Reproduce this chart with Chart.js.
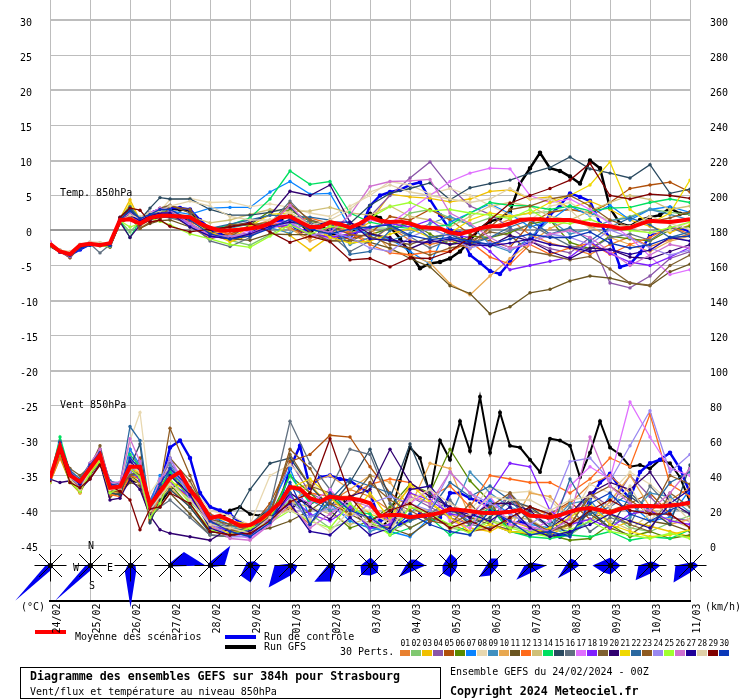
<!DOCTYPE html>
<html>
<head>
<meta charset="utf-8">
<title>GEFS Strasbourg</title>
<script src="https://cdn.jsdelivr.net/npm/chart.js@4"></script>
<style>
  body { margin: 0; background: #fff; }
</style>
</head>
<body>
<canvas id="chart" width="740" height="700"></canvas>
<script>
const dateLabels = ['24/02','25/02','26/02','27/02','28/02','29/02','01/03','02/03','03/03','04/03','05/03','06/03','07/03','08/03','09/03','10/03','11/03'];
const leftTicks = [30,25,20,15,10,5,0,-5,-10,-15,-20,-25,-30,-35,-40,-45];
const rightTicks = [300,280,260,240,220,200,180,160,140,120,100,80,60,40,20,0];

// forecast hours of the runs (6h) and of the members (6h then 12h)
const runHours = Array.from({length: 65}, (_, i) => i * 6);
const pertHours = [0,6,12,18,24,30,36,42,48,54,60,66,72,84,96,108,120,132,144,156,168,180,192,204,216,228,240,252,264,276,288,300,312,324,336,348,360,372,384];

const meanT = [-1.9,-3,-3.4,-2.1,-1.9,-2.1,-1.8,1.5,1.6,1,1.8,2.1,2.1,2,1.9,1,.4,0,0,.1,.3,.5,1,1.9,2,1.2,.5,.5,1.2,.9,.4,1,1.9,1.4,1.2,1.3,1,.5,.4,.3,-.3,-.5,-.1,.3,.6,.6,1,1.5,1.6,1.6,1.5,1.5,1.5,1.2,.9,.7,.6,.3,.4,.9,1.4,1.3,1.2,1.4,1.6];
const controlT = [-2,-2.9,-3.5,-2.7,-2,-1.9,-2.2,1.5,2.2,1.4,2.5,3,3.2,3.2,3,1.5,.2,-.6,-1,-.7,-.5,.3,1,1.4,1,-.2,.3,-.1,.5,-1,-.9,0,3.5,5,5.5,5.8,6.5,6.9,4.4,2.2,.1,-.4,-3.5,-4.6,-5.8,-6.2,-4.5,-2.1,-1.6,.5,2.2,3.6,5.3,4.8,4.2,1,-1.1,-5.2,-4.8,-3.2,-.6,-.1,.1,.4,-.2];
const gfsT = [-2.2,-3,-3.3,-2.5,-1.8,-1.9,-2.1,1.2,3,1.5,2.5,3,3.1,3,2.9,1,0,-.5,-1,-1,-.6,.3,.5,1.5,2.2,1,-.3,.8,-.3,-1,-.5,.5,2.4,1.8,.5,-1.1,-3.3,-5.4,-4.7,-4.5,-4,-3,-1.4,.3,1.3,1.7,2.7,6.7,8.9,11.1,8.9,8.5,7.7,6.7,10,8.9,3.2,1,.6,1.5,1.9,2.2,3.2,2.4,2.4];

const meanW = [38.5,56.5,40,36.5,44,51.7,33,33.6,45,45,23,30.7,38.5,42,31.7,25,15.7,16.9,14.2,11.3,11.7,14.6,19.3,24.5,33.4,32.3,27,25,27.9,27,27,26,24.1,16.9,17.4,17.4,16.1,16.9,17.4,18.6,20.8,20.3,19.7,18.7,18.6,18.7,19.3,20.3,17,16.7,16,17.4,19.3,20.8,21.4,20.3,18.7,20.8,22.3,22.6,22.6,22.3,22.9,23.4,24.4];
const controlW = [38,59,38,32,41,50,30,33,40,42,25,33,56,60,50,30,22,20,18,13,11,12,20,25,44,57,33,39,40,38,37,33,30,14,16,12,15,18,14,16,30,30,27,25,22,17,11,14,10,8,7,5,7,11,27,36,41,33,27,42,47,49,53,44,30];
const gfsW = [37,55,40,34,42,48,30,30,37,36,20,24,32,36,27,24,17,15,20,22,18,17,20,25,20,26,24,26,27,28,22,16,11,10,15,37,56,50,29,60,49,71,54,85,53,76,57,56,49,42,61,60,57,39,53,71,56,52,45,46,44,49,47,39,25];

// temperature of the 30 members (degC)
const t01 = [-2,-2.8,-3.2,-2.2,-1.8,-2.1,-1.9,1.6,2.4,1.5,2.2,2.6,2.5,1.6,.4,-.5,.3,1.1,.4,-1.1,.5,-.4,-1.5,.5,-1.4,-2,-1.4,-2.6,.4,1.6,-.6,-1.8,-2.5,-3.4,-2,-.9,-2.3,-1.3,-.5];
const t02 = [-2.2,-3,-3.5,-2.5,-2,-2.1,-2.1,1.4,-.2,1.3,2.1,2.2,2.2,1,-.6,-1.4,-2.1,-.6,1.2,.3,1.5,-.3,.4,.3,2.5,3,1.8,.8,1.8,2,2.5,2.7,3.1,2.5,1.4,2,3.1,2.6,2.3];
const t03 = [-2.1,-2.9,-3.2,-2.4,-2,-2,-2.2,1.7,4.4,1.5,2,2.3,2.4,1.4,-.2,-1.6,-.7,1.4,-.7,-2.8,-.8,-.6,1.2,5.2,4.8,4.6,4.1,4.5,5.6,5.8,4.5,4.8,3.2,4.2,3,1.5,.6,-.3,.8];
const t04 = [-1.6,-3,-3.9,-2.3,-1.7,-1.9,-2.2,1.8,2.5,1,1.7,2,2.3,.8,-.8,-1,-.5,.3,1.4,.7,-.9,-1.7,2,5,7.5,9.8,6.2,3.5,2.3,.4,-1.5,-2.6,-3.2,-1,-7.5,-8.2,-6.5,-4,-3];
const t05 = [-2,-2.9,-3.3,-2,-1.9,-1.8,-2,1.2,1.8,.8,1.5,2,2.2,.6,-1.2,-.5,.5,1,.3,-.5,-.8,-1.2,-.4,2,1.5,3,1.5,-.5,-1.5,-2.4,1,2.6,3,2.5,4,6,6.5,6.9,5.5];
const t06 = [-2.2,-2.9,-3.3,-2.3,-2,-1.9,-2.3,1.5,3.2,.9,1.8,2.2,2.3,1,-.5,.6,.8,2.8,2.9,1.3,.8,.4,-.6,.3,1.2,-.5,-2,-.8,-1,-.3,.9,1.5,-1.7,-2.6,-.8,-1.2,-1.5,.1,.6];
const t07 = [-2.1,-3.1,-3.6,-2.6,-2,-2.2,-2,1.9,2.8,1.6,2.4,3,2.8,2.3,3.2,3.3,3.3,5.5,7,5.2,5.3,.4,-.6,-1.2,-3,-4.8,1.2,2.5,3.8,2.4,.5,1.4,3.5,2.1,3.6,1.5,3,3.4,2.6];
const t08 = [-1.8,-2.8,-3,-2,-1.6,-1.7,-1.8,1.7,2.5,2,2.6,2.8,4.4,4.6,4,4.1,3.4,3.8,3.3,2.5,2,3.5,5,7,6.5,5.2,6,5,3.6,2.2,1.5,3.5,4,2.2,1.5,.5,-.4,0,1.2];
const t09 = [-2.1,-3,-3.4,-2.4,-2,-2,-2.1,1.5,2.3,1.4,2.4,2.6,2.5,.8,-.4,.3,1,.4,-.4,1.5,.7,-2,-1,-1.5,-.4,1,2,.8,-2,-3,-1,1.5,-.5,.2,1.4,1.8,3,2.3,1.5];
const t10 = [-2,-2.8,-3.2,-2.2,-1.8,-2,-2,1.3,2.3,.6,1.5,1.8,2,1,-.6,.2,.5,1.5,.3,-1.5,-.5,1,.4,-2.8,-3.5,-4.6,-7.6,-9.2,-6.5,-4,-1.8,.3,1.5,.6,-1,-2,-3,-1.5,-.8];
const t11 = [-2,-3,-3.6,-2.5,-2,-2.1,-2.4,1,1.8,.3,1,1.4,1.5,.5,-.8,-1.2,-1.4,-.5,-.6,-.6,-1.4,-1.4,-1.7,-2.5,-4,-5.2,-7.9,-9,-11.9,-10.9,-8.9,-8.4,-7.2,-6.5,-6.8,-7.5,-7.9,-5.9,-4.8];
const t12 = [-2,-2.9,-3.3,-2.3,-1.9,-1.9,-1.9,1.4,2,1.5,2.2,2.4,2.5,1.2,.2,-.6,-.4,.7,1.4,1.8,1,-.3,-2,-3.2,-3.5,-3,-3,-1.6,-3.8,-4.8,-2,-3.4,-2.5,-1.8,-3.4,-2,-1,.5,-.5];
const t13 = [-1.9,-2.8,-3.1,-2.1,-1.8,-1.8,-2,1.6,2.2,1.7,2.3,2.7,2.6,2,1.1,1.5,2.3,3,2.7,2.8,3.3,2.5,2.2,3.5,2,1.5,.5,2,3.5,4,3.5,2,1.5,2.8,4,5,4.4,3,3.5];
const t14 = [-2,-3,-3.5,-2.4,-2,-2,-2,1.5,-1,1.4,2.2,2.6,2.6,1.5,.2,.8,1.8,4.5,8.5,6.6,7,2.5,1.2,.6,.3,.5,.8,2.5,4,3.6,3.5,3,3.5,2.8,3.2,3.3,4,4.5,4];
const t15 = [-2.2,-2.9,-3.5,-2.4,-1.9,-2.1,-2,1.8,3,1.5,3.2,4.7,4.5,4.5,3,2.2,2.2,2.6,3.3,.7,-.2,1,3.6,5.3,6,6.8,4.4,6.1,6.7,7.2,8.2,9,10.5,8.8,8.2,7.5,9.4,5.3,5.9];
const t16 = [-2,-3,-3.3,-2.3,-1.9,-3.2,-2,1.5,2.6,1.6,2,2,1.8,1.1,-1.5,-2.3,-1,1,4.2,1.2,-.5,-3,-1.5,.6,-.9,-2.5,-1.3,-1.7,-1,0,.8,-.7,-2.2,-2.7,-1,-.5,-1.4,.5,-.8];
const t17 = [-1.6,-3,-3.6,-2.2,-1.7,-2,-2.2,1.7,2.4,1.3,2.5,3.2,3,.8,-.5,-.9,0,1,1.3,-.6,-1.2,.3,1.5,1,3,5,7,8.2,8.9,8.8,5,4,4.5,3,1,-1,-3.7,-6.3,-5.6];
const t18 = [-2,-2.9,-3.3,-2.3,-1.9,-2,-2.1,1.6,2.3,1.3,2.2,2.7,2.6,.8,-.9,-1.1,-.3,.4,.8,-.4,-1,-.5,.4,1,.5,1.5,-.5,-1,-3,-5.6,-5,-4.4,-3.8,-1.6,-3.3,-4.5,-5,-3.8,-2.4];
const t19 = [-2.1,-2.9,-3.6,-2.3,-1.9,-2,-2.2,1.7,2.7,1.8,2,3.2,3.6,2.5,-.5,-.9,.8,1.2,2.2,-.2,-1.5,-1.5,-.3,-1.5,-2,-1,-.6,-1.5,-.2,-.7,-3,-3.5,-4.2,-3.7,-5.5,-7.5,-7.8,-5,-3.5];
const t20 = [-2,-3.1,-3.4,-2.4,-2,-2.1,-2.1,1.2,-1,.8,1.5,1.9,2,1.5,0,.6,1.2,2.2,5.6,5,6.5,1.2,-.5,-1,-2.6,-1.4,-2,-1.6,-2.2,-.7,-1.5,-3,-4,-2.5,-2.7,-3.8,-4,-3,-2];
const t21 = [-2.2,-2.9,-3.3,-2.5,-2,-2.1,-2,1.6,3.8,1.6,2.4,2.7,2.8,1.5,-.3,-1.3,.6,2.3,2.5,.8,-1,-1.8,-1.5,-.5,.3,-1,-.4,1.5,2.5,2,2.5,4,5,6.5,9.8,3,1,2.5,7.2];
const t22 = [-2,-3,-3.4,-2.3,-2,-2,-2.1,1.8,3.4,1.7,2.3,2.6,2.7,1.7,.3,.9,1.5,2.2,2,1.9,1.5,-3.4,-3,0,1,-1,-.5,-2,-1,.5,1.5,-.5,.4,-1.5,.5,1.8,.8,-1,-.2];
const t23 = [-2.1,-3,-3.9,-2.3,-2,-2,-2.1,1,2,.3,1.2,1.5,3.5,3,-.5,.8,1,.6,3.8,1.5,.7,-.6,-.8,-2,-2.5,-3.5,-2.5,-2,.5,3,3.5,4.5,5,3.5,1.5,.5,1.2,1.8,2.7];
const t24 = [-1.8,-3,-3.5,-2.2,-1.9,-2,-2.2,1.4,2.4,1.2,2,2.5,2.6,.7,-.7,-.8,-.4,.5,1.1,-.7,-.2,-1,-2.5,-3,-1,.3,-.9,-2.5,-1.7,-2.8,-1.5,-.5,-1,-2,.1,-1,-2.5,-3.5,-2.8];
const t25 = [-2.1,-3,-3.3,-2.5,-2.1,-2.2,-2.3,1.4,.5,1,1.8,1.3,.8,-.5,-1.2,-2,-2.4,-.8,.8,-.5,.6,.3,1.8,3.4,4,2.8,3,2.5,2.2,1.7,3,1.2,1,1.6,.5,0,-.3,.4,1.2];
const t26 = [-1.7,-3.1,-3.7,-2.2,-1.8,-1.9,-2,1.3,2.5,1.4,2.3,3.2,2.9,1,-.7,-1,-.5,.7,3.6,.5,-.3,2.2,6.3,7,7.1,7.3,2.5,1,-1,-2.5,-2,-.5,0,-1,-3,-5,-3.5,-2,-2.5];
const t27 = [-2,-3,-3.5,-2.5,-2.1,-2.1,-2.1,1.5,2.2,1.4,2.1,2.5,2.5,.5,-.8,-1.2,-.5,.6,1.2,.8,1.2,1.2,-1.2,-1.4,-1.6,-1.7,-1.2,-2,-2.2,-1.8,-1.2,-2,-2.4,-3,-2.7,-3.4,-2.8,-1,-1.5];
const t28 = [-1.8,-2.8,-3.1,-2,-1.7,-1.8,-2,1.4,2.2,1.8,2.5,2.8,3.5,4.2,3.5,2,1.5,1.5,2.6,.7,1.5,3,5.5,6.5,5.5,5,4.5,4,4.5,6,4.6,4.5,3,.2,.8,.6,2,1,.1];
const t29 = [-2,-3,-3.4,-2.4,-2,-2,-2.1,1.9,3.2,2.9,1.2,1.5,.6,-.2,.2,.5,1,-.2,-1.7,-.8,-1.6,-4.2,-4,-5.2,-3.9,-4,-3,-1,1.5,3.9,5,6,7.2,9.6,5,4.5,5.2,5,4.6];
const t30 = [-2.1,-3.1,-3.6,-2.6,-2.1,-2.1,-2.2,1.6,2.8,1.7,2.3,3,3,1.5,-.5,-1.2,-.8,.3,1.6,.2,-.5,.2,.5,.8,-.7,-1.3,-1,-1.5,-2,-1.2,-.5,-1,-1,-.2,-1.8,-2.5,-2,-1,-.8];

// wind of the 30 members (km/h)
const w01 = [38,57,38,32,43,51,30,32,42,44,20,28,34,28,12,9,8,14,22,12,25,32,28,20,33,30,18,12,20,25,22,17,24,35,40,30,20,26,33];
const w02 = [37,55,40,35,44,50,33,33,44,40,22,30,38,25,14,11,10,16,26,18,10,14,10,8,14,18,10,8,15,11,8,10,6,14,18,10,8,13,17];
const w03 = [36,50,36,30,42,47,28,32,40,38,24,34,42,30,16,14,12,20,32,35,22,28,18,14,30,24,16,10,8,14,10,6,12,20,9,14,11,8,5];
const w04 = [38,60,42,37,46,52,35,35,55,44,26,38,47,33,17,10,5,18,48,30,24,22,14,10,28,22,16,12,20,28,14,8,16,30,22,40,28,16,14];
const w05 = [37,53,39,33,43,52,30,34,41,50,14,25,40,34,18,14,10,24,48,52,63,62,45,30,22,16,12,8,10,15,22,18,25,15,20,24,30,18,10];
const w06 = [38,54,37,31,40,50,34,30,40,36,22,27,35,22,8,6,8,17,40,30,20,10,14,22,35,30,55,37,25,8,7,6,3,4,12,5,8,4,6];
const w07 = [38,57,41,36,46,55,36,36,55,46,24,40,43,30,17,12,6,22,44,16,24,14,10,8,5,16,20,14,26,18,12,10,8,14,28,24,14,16,32];
const w08 = [37,55,40,34,44,51,35,33,60,76,30,38,45,35,20,17,12,40,46,36,28,22,20,12,25,30,18,20,33,30,31,26,15,35,30,42,35,25,22];
const w09 = [38,56,39,33,45,50,32,31,47,48,19,28,46,30,14,9,8,16,34,26,20,24,8,12,18,30,16,42,30,22,18,12,24,26,12,16,30,28,19];
const w10 = [36,52,37,30,41,48,30,30,39,35,18,26,33,22,10,8,6,14,22,36,40,32,40,36,22,47,44,16,14,10,30,28,16,14,25,40,22,12,15];
const w11 = [37,52,36,31,40,48,28,30,36,34,16,22,30,18,6,5,8,10,14,20,28,18,12,10,6,14,20,16,12,8,6,9,12,18,10,6,14,12,8];
const w12 = [36,50,38,33,43,48,29,28,40,38,15,28,37,26,13,9,10,18,24,30,28,28,35,38,36,28,34,22,40,38,36,36,30,38,50,45,75,35,28];
const w13 = [37,54,38,32,44,49,31,32,43,42,21,31,40,28,13,10,9,15,25,22,18,12,16,10,22,20,9,14,18,16,15,8,10,22,14,9,18,15,10];
const w14 = [38,62,42,34,46,53,33,32,52,45,22,33,42,26,12,8,5,14,40,24,28,20,18,6,10,16,6,12,22,8,5,4,6,5,8,3,5,4,9];
const w15 = [37,53,37,31,42,47,30,29,45,58,13,26,32,22,7,12,32,47,50,34,22,36,55,27,58,30,22,12,16,26,22,14,6,20,10,28,20,12,46];
const w16 = [38,55,39,34,43,50,31,34,42,38,17,22,26,16,6,5,12,22,71,47,32,55,52,24,14,18,26,12,10,30,18,10,22,8,16,12,34,22,18];
const w17 = [36,58,41,36,46,54,34,35,50,44,20,36,50,30,15,7,4,12,30,24,32,20,12,20,24,32,14,10,28,12,9,14,34,45,38,82,62,44,40];
const w18 = [37,55,38,32,44,50,33,32,46,37,18,31,36,28,12,8,6,15,28,18,14,22,10,12,30,26,18,16,30,47,45,20,12,15,10,18,20,14,12];
const w19 = [38,54,44,40,45,57,35,34,40,42,19,36,50,37,15,12,9,19,52,34,30,26,40,18,10,16,12,24,12,9,20,16,11,30,18,12,8,30,22];
const w20 = [38,36,37,32,38,47,26,27,38,32,17,9,7,5,3,10,6,14,30,22,15,28,32,55,36,28,22,16,24,24,20,10,18,30,36,32,42,25,18];
const w21 = [37,56,37,31,42,49,32,33,45,41,20,30,37,30,11,7,10,17,33,38,28,16,30,15,35,25,16,8,12,8,7,10,16,24,12,8,5,6,9];
const w22 = [38,58,43,38,47,54,37,35,68,60,21,28,44,32,13,10,8,20,30,12,26,38,34,30,14,20,36,28,34,26,14,6,38,18,22,30,20,36,42];
const w23 = [37,53,38,34,45,52,31,31,43,40,24,34,67,40,14,9,7,17,55,44,24,18,36,26,20,14,12,18,22,30,14,8,12,28,34,26,18,40,35];
const w24 = [37,56,39,34,46,51,33,34,42,46,22,37,50,26,13,5,5,14,25,16,22,16,24,28,24,20,42,30,24,18,12,20,48,50,37,57,77,42,52];
const w25 = [36,53,36,31,41,48,30,33,44,39,16,24,38,24,9,6,10,13,20,14,10,24,14,6,22,18,12,7,14,10,7,5,9,14,8,6,4,7,4];
const w26 = [37,57,42,36,47,55,36,36,61,48,21,38,44,32,12,4,3,12,24,10,18,26,22,14,28,24,42,30,20,14,11,8,15,62,34,24,20,30,44];
const w27 = [38,56,40,35,45,52,34,33,48,43,22,32,40,29,10,6,8,16,24,8,6,16,6,10,32,34,20,18,14,22,10,5,8,12,18,14,10,24,32];
const w28 = [37,54,38,32,43,50,32,32,46,42,20,28,35,26,12,10,7,16,20,15,8,20,12,8,26,32,24,18,28,26,26,20,26,28,22,34,14,26,14];
const w29 = [37,54,36,33,38,46,34,31,26,9,21,22,30,24,8,6,7,14,25,30,61,28,14,20,24,18,10,14,9,16,22,18,12,20,26,20,18,18,10];
const w30 = [38,59,42,36,46,53,35,34,50,44,23,35,44,33,14,8,5,13,36,12,30,20,16,8,18,12,8,6,20,14,6,8,5,24,30,18,14,20,26];

const pertColors = ['#e88030','#80c870','#f0c000','#8a55a8','#b0500a','#5a8a00','#0a84ff','#e8d8b0','#4090c0','#e8a850','#6b5520','#ff6a1a','#d0c078','#00e060','#2a4a60','#607080','#e070ff','#8020ff','#7f6030','#300070','#f0d800','#2a68a0','#8e5a20','#9a88f0','#a0ff30','#d070d0','#200098','#e0d0a8','#800000','#0a38b8'];
const tempPerts = [t01,t02,t03,t04,t05,t06,t07,t08,t09,t10,t11,t12,t13,t14,t15,t16,t17,t18,t19,t20,t21,t22,t23,t24,t25,t26,t27,t28,t29,t30];
const windPerts = [w01,w02,w03,w04,w05,w06,w07,w08,w09,w10,w11,w12,w13,w14,w15,w16,w17,w18,w19,w20,w21,w22,w23,w24,w25,w26,w27,w28,w29,w30];

// wind roses, one per day, reach per direction
const roseN  = [2,2,3,3,4,3,2,3,8,6,12,7,3,7,8,4,3];
const roseNE = [2,2,3,19,28,6,3,3,6,8,9,10,4,7,5,5,5];
const roseE  = [2,2,5,35,14,10,7,5,8,15,7,8,16,9,10,10,8];
const roseSE = [2,2,8,1,1,8,7,6,10,5,7,5,2,5,5,5,5];
const roseS  = [5,5,42,1,1,17,10,16,10,5,12,10,2,6,9,8,7];
const roseSW = [50,50,8,1,3,14,31,23,13,16,11,16,20,18,10,21,24];
const roseW  = [5,5,3,1,3,5,16,3,10,5,8,4,6,5,18,12,15];
const roseNW = [2,2,2,1,3,5,2,2,5,4,6,3,3,3,7,2,2];
const roses = [roseN,roseNE,roseE,roseSE,roseS,roseSW,roseW,roseNW];
const roseLevel = -47.8;

const FONT = '"DejaVu Sans Mono", monospace';
const GRID = '#bdbdbd';

function toPts(hours, vals) {
  return vals.map((v, i) => ({x: hours[i], y: v}));
}

const datasets = [];
tempPerts.forEach((vals, i) => {
  datasets.push({yAxisID: 'yT', data: toPts(pertHours, vals), borderColor: pertColors[i], backgroundColor: pertColors[i], borderWidth: 1.3, pointRadius: 1.7, pointBorderWidth: 0, order: 40 - i});
});
windPerts.forEach((vals, i) => {
  datasets.push({yAxisID: 'yW', data: toPts(pertHours, vals), borderColor: pertColors[i], backgroundColor: pertColors[i], borderWidth: 1.3, pointRadius: 1.7, pointBorderWidth: 0, order: 40 - i});
});
[['yT', controlT, gfsT, meanT], ['yW', controlW, gfsW, meanW]].forEach(([axis, control, gfs, mean]) => {
  datasets.push({yAxisID: axis, data: toPts(runHours, control), borderColor: '#0000f0', backgroundColor: '#0000f0', borderWidth: 2.5, pointRadius: 1, order: 50});
  datasets.push({yAxisID: axis, data: toPts(runHours, gfs), borderColor: '#000', backgroundColor: '#000', borderWidth: axis == 'yT' ? 2.5 : 2, pointRadius: 1, order: 51});
  datasets.push({yAxisID: axis, data: toPts(runHours, mean), borderColor: '#ff0000', backgroundColor: '#ff0000', borderWidth: 4, pointRadius: 0, order: 1});
});

function txt(ctx, s, x, y, font) {
  ctx.font = font || ('10px ' + FONT);
  ctx.fillStyle = '#000';
  ctx.textAlign = 'left';
  ctx.textBaseline = 'middle';
  ctx.fillText(s, x, y);
}

// convex outline of a rose, its centre included
function hull(pts) {
  const p = pts.slice().sort((a, b) => a[0] - b[0] || a[1] - b[1]);
  const cross = (o, a, b) => (a[0] - o[0]) * (b[1] - o[1]) - (a[1] - o[1]) * (b[0] - o[0]);
  const half = list => {
    const out = [];
    list.forEach(q => {
      while (out.length >= 2 && cross(out[out.length - 2], out[out.length - 1], q) <= 0) out.pop();
      out.push(q);
    });
    out.pop();
    return out;
  };
  return half(p).concat(half(p.slice().reverse()));
}

const roseAndNotes = {
  id: 'roseAndNotes',
  beforeDraw(chart) {
    // the date labels run over this swatch
    chart.ctx.fillStyle = '#ff0000';
    chart.ctx.fillRect(35, 630, 31, 4);
  },
  afterDatasetsDraw(chart) {
    const ctx = chart.ctx;
    const xs = chart.scales.x, ys = chart.scales.yT;
    const cy = Math.floor(ys.getPixelForValue(roseLevel)) + .5;
    ctx.save();
    dateLabels.forEach((d, i) => {
      const cx = Math.floor(xs.getPixelForValue(i * 24)) + .5;
      const outline = hull(roses.map((r, k) => {
        const a = k * Math.PI / 4;
        return [cx + r[i] * Math.sin(a), cy - r[i] * Math.cos(a)];
      }));
      ctx.beginPath();
      outline.forEach((q, k) => {
        if (k == 0) ctx.moveTo(q[0], q[1]); else ctx.lineTo(q[0], q[1]);
      });
      ctx.closePath();
      ctx.fillStyle = '#0000f0';
      ctx.fill();
      // compass star
      ctx.strokeStyle = '#000';
      ctx.lineWidth = 1;
      ctx.beginPath();
      ctx.moveTo(cx - 16, cy); ctx.lineTo(cx + 16, cy);
      ctx.moveTo(cx, cy - 16); ctx.lineTo(cx, cy + 16);
      ctx.moveTo(cx - 11.5, cy - 11.5); ctx.lineTo(cx + 11.5, cy + 11.5);
      ctx.moveTo(cx - 11.5, cy + 11.5); ctx.lineTo(cx + 11.5, cy - 11.5);
      ctx.stroke();
      ctx.fillStyle = '#000';
      ctx.beginPath();
      ctx.arc(cx, cy, 2.5, 0, Math.PI * 2);
      ctx.fill();
    });
    txt(ctx, 'N', 88, 546);
    txt(ctx, 'W', 73, 568);
    txt(ctx, 'E', 107, 568);
    txt(ctx, 'S', 89, 586);
    txt(ctx, 'Temp. 850hPa', 60, 193);
    txt(ctx, 'Vent 850hPa', 60, 405);
    ctx.restore();
  },
  afterDraw(chart) {
    const ctx = chart.ctx;
    ctx.save();
    txt(ctx, '(\u00b0C)', 21, 607);
    txt(ctx, '(km/h)', 705, 607);

    // legend
    txt(ctx, 'Moyenne des sc\u00e9narios', 75, 637);
    ctx.fillStyle = '#0000f0';
    ctx.fillRect(225, 635, 31, 4);
    txt(ctx, 'Run de contr\u00f4le', 264, 637);
    ctx.fillStyle = '#000';
    ctx.fillRect(225, 645, 31, 4);
    txt(ctx, 'Run GFS', 264, 647);
    txt(ctx, '30 Perts.', 340, 652);
    pertColors.forEach((c, i) => {
      ctx.fillStyle = c;
      ctx.fillRect(400 + i * 11, 650, 10, 6);
      txt(ctx, String(i + 1).padStart(2, '0'), 400.5 + i * 11, 644, '8px ' + FONT);
    });

    // title block
    ctx.strokeStyle = '#000';
    ctx.lineWidth = 1;
    ctx.strokeRect(20.5, 667.5, 420, 31);
    txt(ctx, 'Diagramme des ensembles GEFS sur 384h pour Strasbourg', 30, 677, 'bold 11.6px ' + FONT);
    txt(ctx, 'Vent/flux et temp\u00e9rature au niveau 850hPa', 30, 692);
    txt(ctx, 'Ensemble GEFS du 24/02/2024 - 00Z', 450, 672);
    txt(ctx, 'Copyright 2024 Meteociel.fr', 450, 692, 'bold 11.6px ' + FONT);
    ctx.restore();
  }
};

const noPad = s => { s.paddingTop = 0; s.paddingBottom = 0; s.paddingLeft = 0; s.paddingRight = 0; };

new Chart(document.getElementById('chart'), {
  type: 'line',
  data: {datasets: datasets},
  plugins: [roseAndNotes],
  options: {
    responsive: false,
    animation: false,
    events: [],
    layout: {autoPadding: false, padding: {left: 20}},
    plugins: {legend: {display: false}, tooltip: {enabled: false}},
    scales: {
      x: {
        type: 'linear', min: 0, max: 384,
        afterBuildTicks: s => { s.ticks = dateLabels.map((d, i) => ({value: i * 24})); },
        afterFit: s => { s.height = 99.5; noPad(s); },
        grid: {color: GRID, lineWidth: 1, drawTicks: false},
        border: {display: true, color: '#000', width: 2},
        ticks: {
          autoSkip: false, minRotation: 90, maxRotation: 90, padding: 3, labelOffset: 7,
          color: '#000', font: {family: FONT, size: 10},
          callback: v => dateLabels[v / 24]
        }
      },
      yT: {
        position: 'left', min: -45 - 55 / 7, max: 230.5 / 7,
        afterBuildTicks: s => { s.ticks = leftTicks.map(v => ({value: v})); },
        afterFit: s => { s.width = 30; noPad(s); },
        grid: {
          drawTicks: false,
          color: c => c.tick.value == 0 ? '#999' : GRID,
          lineWidth: c => c.tick.value % 10 == 0 ? 2 : 1
        },
        border: {display: false},
        ticks: {
          autoSkip: false, crossAlign: 'far', labelOffset: 3,
          color: '#000', font: {family: FONT, size: 10},
          callback: v => (v >= 0 && v < 10 ? ' ' : '') + v
        }
      },
      yW: {
        position: 'right', min: (-55 / 7) * 4, max: (230.5 / 7 + 45) * 4,
        afterBuildTicks: s => { s.ticks = rightTicks.map(v => ({value: v})); },
        afterFit: s => { s.width = 50; noPad(s); },
        grid: {drawOnChartArea: false, drawTicks: false},
        border: {display: false},
        ticks: {
          autoSkip: false, padding: 20, labelOffset: 3,
          color: '#000', font: {family: FONT, size: 10},
          callback: v => '' + v
        }
      }
    }
  }
});
</script>
</body>
</html>
